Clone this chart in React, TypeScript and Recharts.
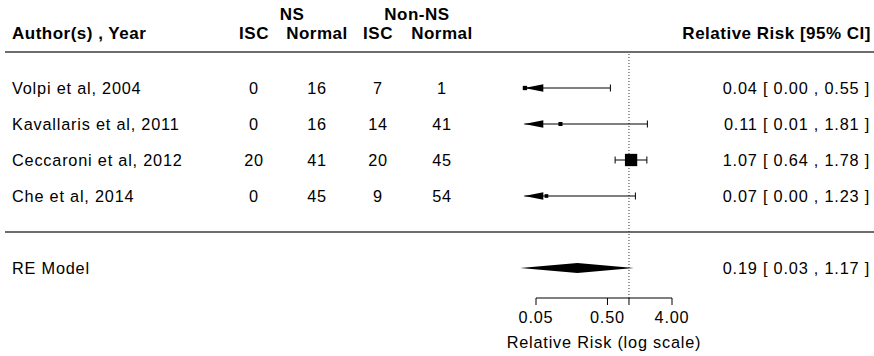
import { ComposedChart, Scatter, XAxis, YAxis, ReferenceLine } from 'recharts'

// study table
const studies = ['Volpi et al, 2004', 'Kavallaris et al, 2011', 'Ceccaroni et al, 2012', 'Che et al, 2014']
const nsIsc = [0, 0, 20, 0]
const nsNormal = [16, 16, 41, 45]
const nonNsIsc = [7, 14, 20, 9]
const nonNsNormal = [1, 41, 45, 54]

// relative risks with 95% CI
const riskRatio = [0.035, 0.11, 1.07, 0.07]
const ciLower = [0.002, 0.01, 0.64, 0.003]
const ciUpper = [0.55, 1.81, 1.78, 1.23]
const weights = [0.35, 0.33, 1, 0.3]

// random-effects summary
const summaryLabel = 'RE Model'
const summaryEst = 0.19
const summaryLower = 0.03
const summaryUpper = 1.17

const xTicks = [0.05, 0.5, 1, 4]
const xTickLabels = ['0.05', '0.50', '', '4.00']
const arrowAt = 0.0343 // lower axis limit, CIs beyond it get an arrow

// layout
const W = 874
const H = 356
const PLOT_LEFT = 5
const AXIS_Y = 298
const PX_PER_DECADE = 136 / Math.log10(80)
const X_MIN = 0.05 * 10 ** (-(536 - PLOT_LEFT) / PX_PER_DECADE)
const X_MAX = 4 * 10 ** ((W - 672) / PX_PER_DECADE)
const ROW_PX = 36
const Y_MIN = -(AXIS_Y - 232) / ROW_PX
const Y_MAX = 232 / ROW_PX
const COLS = [254, 317, 378, 442]

const FONT = 'Liberation Sans, Arial, Helvetica, sans-serif'
const txt = { fontFamily: FONT, fontSize: 16.3, letterSpacing: 0.8, fill: '#000' }
const bold = { fontFamily: FONT, fontSize: 17, fontWeight: 700, letterSpacing: 0.5, fill: '#000' }

const ci = (e: number, l: number, u: number) => `${e.toFixed(2)} [ ${l.toFixed(2)} , ${u.toFixed(2)} ]`

const rows = studies.map((_, i) => studies.length - i)

const tableRows = [
  ...studies.map((s, i) => ({
    x: riskRatio[i],
    y: rows[i],
    label: s,
    cells: [nsIsc[i], nsNormal[i], nonNsIsc[i], nonNsNormal[i]],
    ci: ci(riskRatio[i], ciLower[i], ciUpper[i]),
  })),
  { x: summaryEst, y: -1, label: summaryLabel, cells: [], ci: ci(summaryEst, summaryLower, summaryUpper) },
]

const boxes = studies.map((_, i) => ({ x: riskRatio[i], y: rows[i], w: weights[i] }))

const ciSegments = studies.map((_, i) => [
  { x: Math.max(ciLower[i], arrowAt), y: rows[i], arrow: ciLower[i] < arrowAt },
  { x: ciUpper[i], y: rows[i], arrow: false },
])

const diamond = [
  { x: summaryLower, y: -1 },
  { x: summaryEst, y: -1 + 0.14 },
  { x: summaryUpper, y: -1 },
  { x: summaryEst, y: -1 - 0.14 },
]

const header = [{ x: 1, y: 5.5 }]

const RowText = (p: any) => {
  const y = p.cy + 5.7
  return (
    <g>
      <text x={12} y={y} {...txt}>{p.payload.label}</text>
      {p.payload.cells.map((c: number, j: number) => (
        <text key={j} x={COLS[j]} y={y} textAnchor="middle" {...txt}>{c}</text>
      ))}
      <text x={870} y={y} textAnchor="end" {...txt}>{p.payload.ci}</text>
    </g>
  )
}

const HeaderText = (p: any) => {
  const y = p.cy + 5
  return (
    <g>
      <text x={12} y={y} {...bold}>Author(s) , Year</text>
      <text x={292} y={y - 19} textAnchor="middle" {...bold}>NS</text>
      <text x={417} y={y - 19} textAnchor="middle" {...bold}>Non-NS</text>
      {['ISC', 'Normal', 'ISC', 'Normal'].map((h, j) => (
        <text key={j} x={COLS[j]} y={y} textAnchor="middle" {...bold}>{h}</text>
      ))}
      <text x={871} y={y} textAnchor="end" {...bold}>Relative Risk [95% CI]</text>
    </g>
  )
}

const Box = (p: any) => {
  const s = 12.3 * p.payload.w
  return <rect x={p.cx - s / 2} y={p.cy - s / 2} width={s} height={s} fill="#000" />
}

const CiEnd = (p: any) =>
  p.payload.arrow ? (
    <polygon points={`${p.cx},${p.cy} ${p.cx + 19},${p.cy - 3.7} ${p.cx + 19},${p.cy + 3.7}`} fill="#000" />
  ) : (
    <line x1={p.cx} x2={p.cx} y1={p.cy - 3.5} y2={p.cy + 3.5} stroke="#000" strokeWidth={1} />
  )

const AxisTick = (p: any) => {
  const label = xTickLabels[xTicks.indexOf(p.payload.value)]
  if (!label) return <g />
  return (
    <text x={p.x} y={p.y + 16} textAnchor="middle" {...txt}>{label}</text>
  )
}

export default function App() {
  return (
    <div style={{ position: 'absolute', left: 0, top: 0, background: '#fff' }}>
      <ComposedChart width={W} height={H} margin={{ top: 0, right: 0, left: PLOT_LEFT, bottom: 8 }}>
        <XAxis
          dataKey="x"
          type="number"
          scale="log"
          domain={[X_MIN, X_MAX]}
          allowDataOverflow
          ticks={xTicks}
          interval={0}
          axisLine={false}
          stroke="#000"
          tickSize={7}
          height={50}
          tick={AxisTick}
        />
        <YAxis dataKey="y" type="number" domain={[Y_MIN, Y_MAX]} allowDataOverflow hide />
        <ReferenceLine y={5} stroke="#3c3c3c" strokeWidth={1.3} />
        <ReferenceLine y={0} stroke="#3c3c3c" strokeWidth={1.3} />
        <ReferenceLine
          segment={[{ x: 1, y: Y_MIN }, { x: 1, y: 5 }]}
          stroke="#333"
          strokeDasharray="1 2"
          ifOverflow="visible"
        />
        <ReferenceLine
          segment={[{ x: 0.05, y: Y_MIN }, { x: 4, y: Y_MIN }]}
          stroke="#000"
          ifOverflow="visible"
          label={{
            value: 'Relative Risk (log scale)',
            position: 'bottom',
            offset: 38.5,
            fontFamily: FONT,
            fontSize: 16.3,
            letterSpacing: 0.8,
            fill: '#000',
          }}
        />
        <Scatter data={header} shape={HeaderText} isAnimationActive={false} />
        <Scatter data={tableRows} shape={RowText} isAnimationActive={false} />
        {ciSegments.map((seg, i) => (
          <Scatter
            key={i}
            data={seg}
            shape={CiEnd}
            line={{ stroke: '#000', strokeWidth: 1 }}
            isAnimationActive={false}
          />
        ))}
        <Scatter data={boxes} shape={Box} isAnimationActive={false} />
        <Scatter
          data={diamond}
          shape={() => <g />}
          line={(lp: any) => (
            <polygon points={lp.points.map((pt: any) => `${pt.x},${pt.y}`).join(' ')} fill="#000" stroke="none" />
          )}
          isAnimationActive={false}
        />
      </ComposedChart>
    </div>
  )
}
